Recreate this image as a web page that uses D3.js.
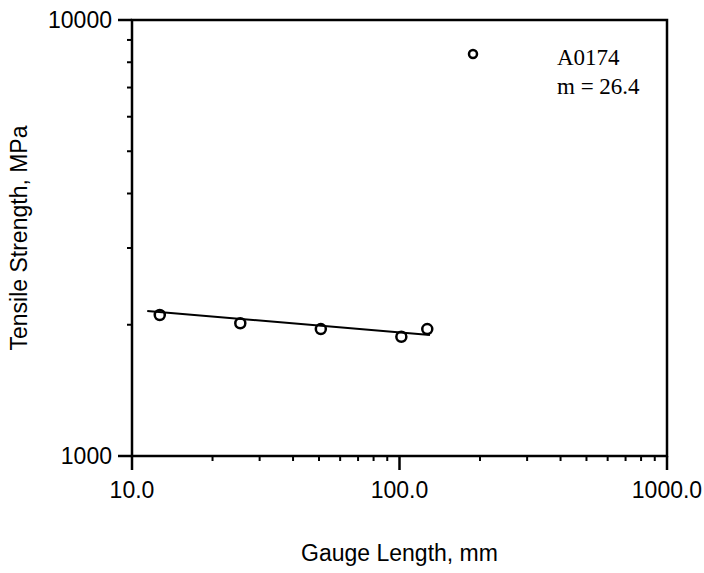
<!DOCTYPE html>
<html><head><meta charset="utf-8">
<script src="https://cdn.jsdelivr.net/npm/d3@7"></script>
<style>body{margin:0;background:#fff}</style>
</head><body>
<svg id="c" width="704" height="573"></svg>
<script>
const gaugeLength = [12.7, 25.4, 50.8, 101.6, 127];
const strength = [2106, 2016, 1955, 1877, 1955];
const fitX = [11.4, 130];
const fitY = [2150, 1895];
const xTicks = [10, 100, 1000];
const yTicks = [1000, 10000];
const legendName = "A0174";
const legendM = "m = 26.4";

const svg = d3.select("#c");
const L = 132, R = 667, T = 20, B = 456;
const x = d3.scaleLog().domain([10, 1000]).range([L, R]);
const y = d3.scaleLog().domain([1000, 10000]).range([B, T]);
const black = "#000";
const sans = "Liberation Sans, Arial, sans-serif";
const serif = "Liberation Serif, Times New Roman, serif";

const minorX = [];
for (let d = 10; d < 1000; d *= 10) for (let k = 2; k <= 9; k++) minorX.push(d * k);
const minorY = [];
for (let k = 2; k <= 9; k++) minorY.push(1000 * k);

svg.append("g").selectAll("line").data(minorX).join("line")
  .attr("x1", d => x(d)).attr("x2", d => x(d)).attr("y1", B).attr("y2", B + 5)
  .attr("stroke", black).attr("stroke-width", 2);
svg.append("g").selectAll("line").data(minorY).join("line")
  .attr("y1", d => y(d)).attr("y2", d => y(d)).attr("x1", L - 5).attr("x2", L)
  .attr("stroke", black).attr("stroke-width", 2);

svg.append("g").selectAll("line").data(xTicks).join("line")
  .attr("x1", d => x(d)).attr("x2", d => x(d)).attr("y1", B).attr("y2", B + 14)
  .attr("stroke", black).attr("stroke-width", 2.5);
svg.append("g").selectAll("line").data(yTicks).join("line")
  .attr("y1", d => y(d)).attr("y2", d => y(d)).attr("x1", L - 14).attr("x2", L)
  .attr("stroke", black).attr("stroke-width", 2.5);

svg.append("rect").attr("x", L).attr("y", T).attr("width", R - L).attr("height", B - T)
  .attr("fill", "none").attr("stroke", black).attr("stroke-width", 2.5);

svg.append("g").selectAll("text").data(xTicks).join("text")
  .attr("x", d => x(d)).attr("y", B + 42).attr("text-anchor", "middle")
  .attr("font-family", sans).attr("font-size", 23)
  .text(d => d3.format(".1f")(d));
svg.append("g").selectAll("text").data(yTicks).join("text")
  .attr("x", L - 20).attr("y", d => y(d) + 8).attr("text-anchor", "end")
  .attr("font-family", sans).attr("font-size", 23)
  .text(d => d3.format("d")(d));

svg.append("text").attr("x", (L + R) / 2).attr("y", 561).attr("text-anchor", "middle")
  .attr("font-family", sans).attr("font-size", 23)
  .text("Gauge Length, mm");
svg.append("text").attr("transform", `translate(27,${(T + B) / 2}) rotate(-90)`)
  .attr("text-anchor", "middle")
  .attr("font-family", sans).attr("font-size", 23)
  .text("Tensile Strength, MPa");

svg.append("line")
  .attr("x1", x(fitX[0])).attr("y1", y(fitY[0])).attr("x2", x(fitX[1])).attr("y2", y(fitY[1]))
  .attr("stroke", black).attr("stroke-width", 2);

svg.append("g").selectAll("circle").data(gaugeLength.map((g, i) => [g, strength[i]])).join("circle")
  .attr("cx", d => x(d[0])).attr("cy", d => y(d[1])).attr("r", 5)
  .attr("fill", "none").attr("stroke", black).attr("stroke-width", 2.5);

svg.append("circle").attr("cx", 473).attr("cy", 54).attr("r", 4)
  .attr("fill", "none").attr("stroke", black).attr("stroke-width", 2.5);
svg.append("text").attr("x", 557).attr("y", 65)
  .attr("font-family", serif).attr("font-size", 23)
  .text(legendName);
svg.append("text").attr("x", 557).attr("y", 94)
  .attr("font-family", serif).attr("font-size", 23)
  .text(legendM);
</script>
</body></html>
